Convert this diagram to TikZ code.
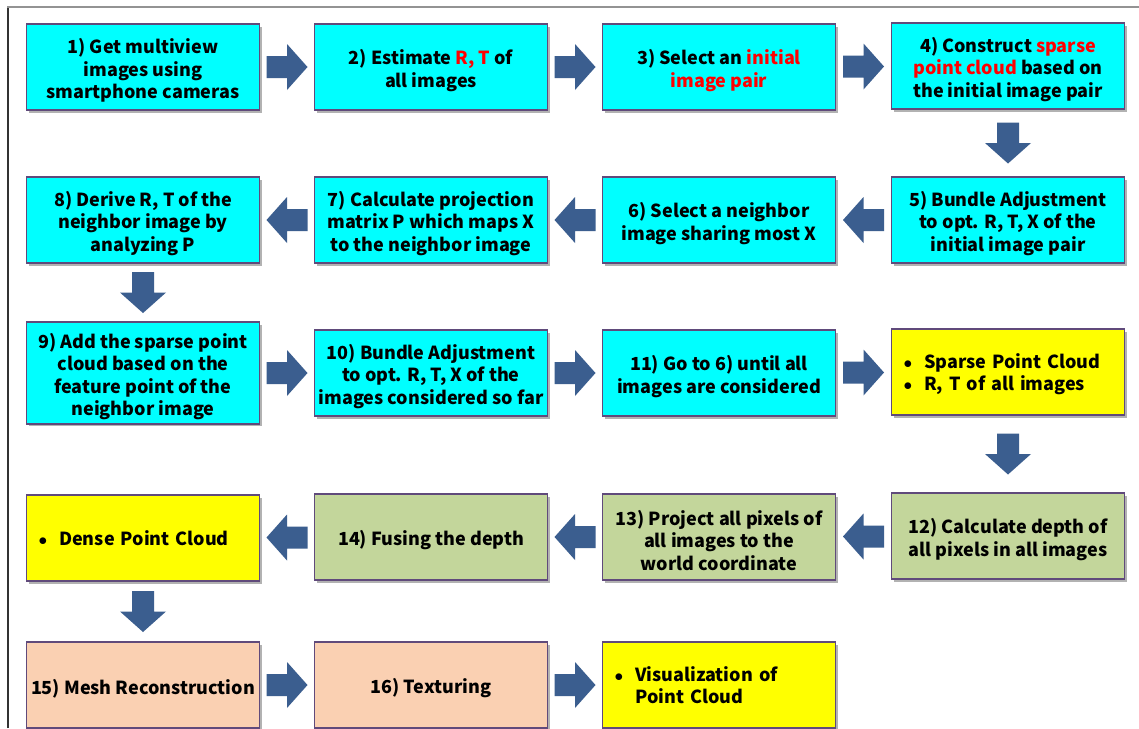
\documentclass[tikz,border=0pt]{standalone}
\usepackage{fontspec}
\setmainfont{Noto Sans CJK KR}
\usetikzlibrary{shadows,calc}
\definecolor{bordc}{HTML}{604A7B}
\definecolor{arrc}{HTML}{3B5E8F}
\definecolor{cyanf}{HTML}{00FFFF}
\definecolor{yelf}{HTML}{FFFF00}
\definecolor{grnf}{HTML}{C3D69B}
\definecolor{pchf}{HTML}{FAD0B2}
\definecolor{redt}{HTML}{FF0000}
\tikzset{
  box/.style={draw=bordc, line width=1.6pt, minimum width=233pt, minimum height=86pt,
    inner sep=4pt, align=center, font=\fontsize{18}{22.5}\selectfont\bfseries,
    drop shadow={shadow xshift=2pt, shadow yshift=-2.5pt, opacity=0.3, fill=black}},
  cbox/.style={box, fill=cyanf},
  ybox/.style={box, fill=yelf},
  gbox/.style={box, fill=grnf},
  pbox/.style={box, fill=pchf},
  barrow/.style={fill=arrc, draw=none},
}
\newcommand{\rd}[1]{\textcolor{redt}{#1}}
\newcommand{\tp}{\rule{0pt}{22pt}}
\newcommand{\bul}[1]{\begin{tabular}{@{}l@{\hspace{12pt}}l@{}}#1\end{tabular}}
% block arrow between two node anchors: name, anchor A, anchor B, rotation
\newcommand{\blockarr}[4]{%
  \coordinate (#1) at ($(#2)!0.5!(#3)$);
  \fill[barrow, shift={(#1)}, rotate=#4] (-20.5,-11) -- (0,-11) -- (0,-23) -- (20.5,0) -- (0,23) -- (0,11) -- (-20.5,11) -- cycle;}
\begin{document}
\begin{tikzpicture}[x=1pt,y=-1pt]
\useasboundingbox (0,0) rectangle (1139,728);
\fill[white] (0,0) rectangle (1139,728);
\draw[color=gray!85, line width=1.6pt] (8,728) -- (8,7) -- (1139,7);
\draw[color=black!80, line width=1.2pt] (8,728) -- (8,8);
% row 1
\node[cbox] (b1) at (143,67) {\tp 1) Get multiview\\images using\\smartphone cameras};
\node[cbox] (b2) at (431,67) {\tp 2) Estimate \rd{R, T} of\\all images};
\node[cbox] (b3) at (719,67) {\tp 3) Select an \rd{initial}\\\rd{image pair}};
\node[cbox] (b4) at (1008,66) {\tp 4) Construct \rd{sparse}\\\rd{point cloud} based on\\the initial image pair};
% row 2
\node[cbox] (b5) at (1008,220) {\tp 5) Bundle Adjustment\\to opt. R, T, X of the\\initial image pair};
\node[cbox] (b6) at (719,220) {\tp 6) Select a neighbor\\image sharing most X};
\node[cbox] (b7) at (431,220) {\tp 7) Calculate projection\\matrix P which maps X\\to the neighbor image};
\node[cbox] (b8) at (143,220) {\tp 8) Derive R, T of the\\neighbor image by\\analyzing P};
% row 3
\node[cbox] (b9) at (143,373) {\tp 9) Add the sparse point\\cloud based on the\\feature point of the\\neighbor image};
\node[cbox] (b10) at (431,373) {\tp 10) Bundle Adjustment\\to opt. R, T, X of the\\images considered so far};
\node[cbox] (b11) at (719,373) {\tp 11) Go to 6) until all\\images are considered};
\node[ybox, align=left, text width=209pt] (o1) at (1008,372) {\bul{\tp$\bullet$ & Sparse Point Cloud\\[0pt] $\bullet$ & R, T of all images}};
% row 4
\node[gbox] (b12) at (1008,536) {\tp 12) Calculate depth of\\all pixels in all images};
\node[gbox] (b13) at (719,537) {\tp 13) Project all pixels of\\all images to the\\world coordinate};
\node[gbox] (b14) at (431,537) {\tp 14) Fusing the depth};
\node[ybox, align=left, text width=209pt] (o2) at (143,538) {\bul{\tp$\bullet$ & Dense Point Cloud}};
% row 5
\node[pbox] (b15) at (143,685) {\tp 15) Mesh Reconstruction};
\node[pbox] (b16) at (431,685) {\tp 16) Texturing};
\node[ybox, align=left, text width=209pt] (o3) at (719,685) {\bul{\tp$\bullet$ & Visualization of\\ & Point Cloud}};
% arrows
\blockarr{a12}{b1.east}{b2.west}{0}
\blockarr{a23}{b2.east}{b3.west}{0}
\blockarr{a34}{b3.east}{b4.west}{0}
\blockarr{a45}{b4.south}{b5.north}{-90}
\blockarr{a56}{b5.west}{b6.east}{180}
\blockarr{a67}{b6.west}{b7.east}{180}
\blockarr{a78}{b7.west}{b8.east}{180}
\blockarr{a89}{b8.south}{b9.north}{-90}
\blockarr{a910}{b9.east}{b10.west}{0}
\blockarr{a1011}{b10.east}{b11.west}{0}
\blockarr{a11o}{b11.east}{o1.west}{0}
\blockarr{ao12}{o1.south}{b12.north}{-90}
\blockarr{a1213}{b12.west}{b13.east}{180}
\blockarr{a1314}{b13.west}{b14.east}{180}
\blockarr{a14o}{b14.west}{o2.east}{180}
\blockarr{ao15}{o2.south}{b15.north}{-90}
\blockarr{a1516}{b15.east}{b16.west}{0}
\blockarr{a16o}{b16.east}{o3.west}{0}
\end{tikzpicture}
\end{document}
